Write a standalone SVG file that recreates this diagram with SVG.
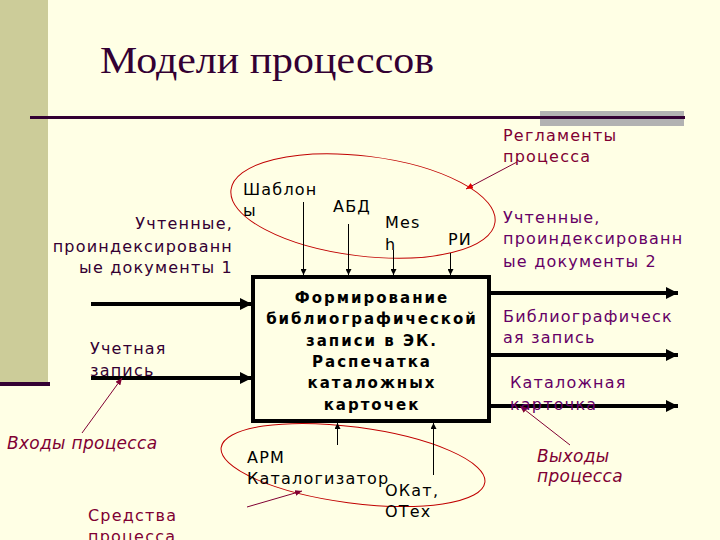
<svg xmlns="http://www.w3.org/2000/svg" width="720" height="540" viewBox="0 0 720 540">
<style>
.lbl{font-family:"DejaVu Sans",Verdana,sans-serif;font-size:16px;letter-spacing:1.2px}
.blk{fill:#000}
.dk{fill:#330033}
.pur{fill:#660066}
.mar{fill:#800033}
.it{font-style:italic;font-size:17px;letter-spacing:0.3px}
.box{font-family:"DejaVu Sans",Verdana,sans-serif;font-size:15px;font-weight:bold;letter-spacing:2px;fill:#000;text-anchor:middle}
.thick{stroke:#000;stroke-width:4;fill:none}
.thin{stroke:#000;stroke-width:1;fill:none}
.ptr{stroke:#800033;stroke-width:1;fill:none}
.ell{stroke:#C00000;stroke-width:1;fill:none}
</style>
<defs>
<marker id="big" markerUnits="userSpaceOnUse" markerWidth="12" markerHeight="12" refX="12" refY="6" orient="auto"><path d="M0,0 L12,6 L0,12 z" fill="#000"/></marker>
<marker id="small" markerUnits="userSpaceOnUse" markerWidth="6" markerHeight="6" refX="6" refY="3" orient="auto"><path d="M0,0 L6,3 L0,6 z" fill="#000"/></marker>
<marker id="ptrh" markerUnits="userSpaceOnUse" markerWidth="7" markerHeight="6" refX="7" refY="3" orient="auto"><path d="M0,0 L7,3 L0,6 z" fill="#800033"/></marker>
<marker id="ptrr" markerUnits="userSpaceOnUse" markerWidth="7" markerHeight="6" refX="7" refY="3" orient="auto"><path d="M0,0 L7,3 L0,6 z" fill="#E00000"/></marker>
</defs>
<rect x="0" y="0" width="720" height="540" fill="#FFFFE5"/>
<rect x="0" y="0" width="48" height="383" fill="#CCCC99"/>
<rect x="0" y="382" width="50" height="4" fill="#330033"/>
<rect x="540" y="111" width="144" height="15" fill="#B2B2B2"/>
<line x1="30" y1="117.5" x2="685" y2="117.5" stroke="#330033" stroke-width="3"/>
<text x="100" y="73" font-family="'Liberation Serif','Times New Roman',serif" font-size="38" fill="#330033" textLength="334" lengthAdjust="spacingAndGlyphs">Модели процессов</text>

<g id="ellipses">
<ellipse class="ell" cx="363" cy="206" rx="133" ry="50" transform="rotate(7 363 206)"/>
<ellipse class="ell" cx="353" cy="465" rx="133" ry="38" transform="rotate(7.5 353 465)"/>
</g>

<g id="process">
<rect x="253" y="277" width="236" height="144" fill="none" stroke="#000" stroke-width="4"/>
<text class="box" x="372" y="303">Формирование</text>
<text class="box" x="372" y="324">библиографической</text>
<text class="box" x="372" y="346">записи в ЭК.</text>
<text class="box" x="372" y="367">Распечатка</text>
<text class="box" x="372" y="388">каталожных</text>
<text class="box" x="372" y="410">карточек</text>
</g>

<g id="connectors">
<line class="thick" x1="91" y1="304" x2="252" y2="304" marker-end="url(#big)"/>
<line class="thick" x1="91" y1="378" x2="252" y2="378" marker-end="url(#big)"/>
<line class="thick" x1="491" y1="293" x2="678" y2="293" marker-end="url(#big)"/>
<line class="thick" x1="491" y1="355" x2="678" y2="355" marker-end="url(#big)"/>
<line class="thick" x1="491" y1="406" x2="678" y2="406" marker-end="url(#big)"/>
<line class="thin" x1="303.5" y1="202" x2="303.5" y2="275" marker-end="url(#small)"/>
<line class="thin" x1="348.5" y1="224" x2="348.5" y2="275" marker-end="url(#small)"/>
<line class="thin" x1="393.5" y1="250" x2="393.5" y2="275" marker-end="url(#small)"/>
<line class="thin" x1="450.5" y1="253" x2="450.5" y2="275" marker-end="url(#small)"/>
<line class="thin" x1="337.5" y1="445" x2="337.5" y2="423" marker-end="url(#small)"/>
<line class="thin" x1="433.5" y1="475" x2="433.5" y2="423" marker-end="url(#small)"/>
<line class="ptr" x1="517" y1="162" x2="466" y2="189" marker-end="url(#ptrr)"/>
<line class="ptr" x1="82" y1="433" x2="122" y2="378" marker-end="url(#ptrh)"/>
<line class="ptr" x1="570" y1="445" x2="520" y2="406" marker-end="url(#ptrh)"/>
<line class="ptr" x1="247" y1="507" x2="302" y2="491" marker-end="url(#ptrh)"/>
</g>

<g id="labels">
<text class="lbl blk" x="243" y="195">Шаблон</text>
<text class="lbl blk" x="243" y="216">ы</text>
<text class="lbl blk" x="333" y="212">АБД</text>
<text class="lbl blk" x="385" y="228">Mes</text>
<text class="lbl blk" x="385" y="250">h</text>
<text class="lbl blk" x="448" y="245">РИ</text>
<text class="lbl dk" x="233" y="229" text-anchor="end">Учтенные,</text>
<text class="lbl dk" x="233" y="252" text-anchor="end">проиндексированн</text>
<text class="lbl dk" x="233" y="273" text-anchor="end">ые документы 1</text>
<text class="lbl pur" x="503" y="223">Учтенные,</text>
<text class="lbl pur" x="503" y="244">проиндексированн</text>
<text class="lbl pur" x="503" y="267">ые документы 2</text>
<text class="lbl pur" x="503" y="322">Библиографическ</text>
<text class="lbl pur" x="503" y="343">ая запись</text>
<text class="lbl pur" x="510" y="388">Каталожная</text>
<text class="lbl pur" x="510" y="410">карточка</text>
<text class="lbl dk" x="90" y="354">Учетная</text>
<text class="lbl dk" x="90" y="376">запись</text>
<text class="lbl mar" x="503" y="141">Регламенты</text>
<text class="lbl mar" x="503" y="162">процесса</text>
<text class="lbl mar it" x="7" y="449">Входы процесса</text>
<text class="lbl mar it" x="537" y="462">Выходы</text>
<text class="lbl mar it" x="537" y="482">процесса</text>
<text class="lbl mar" x="88" y="521">Средства</text>
<text class="lbl mar" x="88" y="542">процесса</text>
<text class="lbl blk" x="247" y="463">АРМ</text>
<text class="lbl blk" x="247" y="484">Каталогизатор</text>
<text class="lbl blk" x="385" y="496">ОКат,</text>
<text class="lbl blk" x="385" y="517">ОТех</text>
</g>
</svg>
